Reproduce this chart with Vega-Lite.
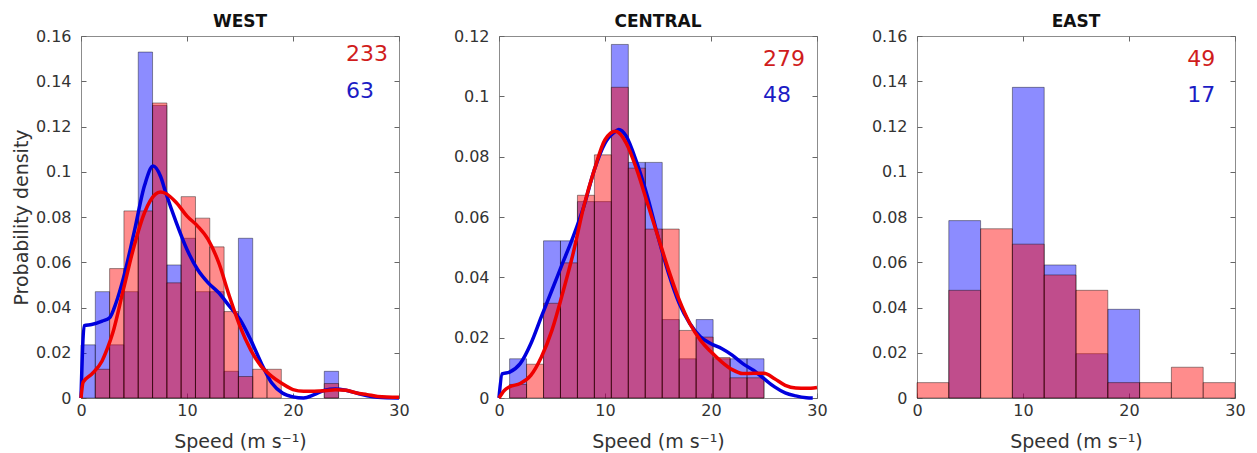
{
  "$schema": "https://vega.github.io/schema/vega-lite/v6.json",
  "padding": {"left": 11, "top": 12, "right": 5, "bottom": 0},
  "bounds": "flush",
  "spacing": 100,
  "config": {
    "font": "DejaVu Sans",
    "view": {"stroke": "#8c8c8c", "strokeWidth": 1},
    "axis": {"domain": false, "grid": false, "ticks": true, "tickSize": -5, "tickColor": "#666666", "tickWidth": 1,
      "labelFont": "DejaVu Sans", "labelFontSize": 16, "labelColor": "#333333", "labelFlush": false,
      "titleFont": "DejaVu Sans", "titleFontSize": 19, "titleFontWeight": "normal", "titleColor": "#333333"},
    "axisX": {"labelPadding": 9, "titlePadding": 14},
    "axisY": {"labelPadding": 15, "titlePadding": 4},
    "title": {"font": "DejaVu Sans", "fontSize": 17, "fontWeight": "bold", "color": "#111111", "offset": -3}
  },
  "datasets": {
    "bars": [
      {"region": "WEST", "series": "blue", "x0": 0, "x1": 1.35, "density": 0.0235},
      {"region": "WEST", "series": "blue", "x0": 1.35, "x1": 2.7, "density": 0.0470},
      {"region": "WEST", "series": "blue", "x0": 2.7, "x1": 4.05, "density": 0.0235},
      {"region": "WEST", "series": "blue", "x0": 4.05, "x1": 5.4, "density": 0.0470},
      {"region": "WEST", "series": "blue", "x0": 5.4, "x1": 6.75, "density": 0.1529},
      {"region": "WEST", "series": "blue", "x0": 6.75, "x1": 8.1, "density": 0.1293},
      {"region": "WEST", "series": "blue", "x0": 8.1, "x1": 9.45, "density": 0.0588},
      {"region": "WEST", "series": "blue", "x0": 9.45, "x1": 10.8, "density": 0.0706},
      {"region": "WEST", "series": "blue", "x0": 10.8, "x1": 12.15, "density": 0.0470},
      {"region": "WEST", "series": "blue", "x0": 12.15, "x1": 13.5, "density": 0.0470},
      {"region": "WEST", "series": "blue", "x0": 13.5, "x1": 14.85, "density": 0.0118},
      {"region": "WEST", "series": "blue", "x0": 14.85, "x1": 16.2, "density": 0.0706},
      {"region": "WEST", "series": "blue", "x0": 22.95, "x1": 24.3, "density": 0.0118},
      {"region": "WEST", "series": "red", "x0": 1.35, "x1": 2.7, "density": 0.0127},
      {"region": "WEST", "series": "red", "x0": 2.7, "x1": 4.05, "density": 0.0572},
      {"region": "WEST", "series": "red", "x0": 4.05, "x1": 5.4, "density": 0.0827},
      {"region": "WEST", "series": "red", "x0": 5.4, "x1": 6.75, "density": 0.0827},
      {"region": "WEST", "series": "red", "x0": 6.75, "x1": 8.1, "density": 0.1304},
      {"region": "WEST", "series": "red", "x0": 8.1, "x1": 9.45, "density": 0.0509},
      {"region": "WEST", "series": "red", "x0": 9.45, "x1": 10.8, "density": 0.0890},
      {"region": "WEST", "series": "red", "x0": 10.8, "x1": 12.15, "density": 0.0795},
      {"region": "WEST", "series": "red", "x0": 12.15, "x1": 13.5, "density": 0.0668},
      {"region": "WEST", "series": "red", "x0": 13.5, "x1": 14.85, "density": 0.0382},
      {"region": "WEST", "series": "red", "x0": 14.85, "x1": 16.2, "density": 0.0095},
      {"region": "WEST", "series": "red", "x0": 16.2, "x1": 17.55, "density": 0.0127},
      {"region": "WEST", "series": "red", "x0": 17.55, "x1": 18.9, "density": 0.0127},
      {"region": "WEST", "series": "red", "x0": 22.95, "x1": 24.3, "density": 0.0064},
      {"region": "CENTRAL", "series": "blue", "x0": 1.0, "x1": 2.6, "density": 0.0130},
      {"region": "CENTRAL", "series": "blue", "x0": 4.2, "x1": 5.8, "density": 0.0521},
      {"region": "CENTRAL", "series": "blue", "x0": 5.8, "x1": 7.4, "density": 0.0521},
      {"region": "CENTRAL", "series": "blue", "x0": 7.4, "x1": 9.0, "density": 0.0651},
      {"region": "CENTRAL", "series": "blue", "x0": 9.0, "x1": 10.6, "density": 0.0651},
      {"region": "CENTRAL", "series": "blue", "x0": 10.6, "x1": 12.2, "density": 0.1172},
      {"region": "CENTRAL", "series": "blue", "x0": 12.2, "x1": 13.8, "density": 0.0781},
      {"region": "CENTRAL", "series": "blue", "x0": 13.8, "x1": 15.4, "density": 0.0781},
      {"region": "CENTRAL", "series": "blue", "x0": 15.4, "x1": 17.0, "density": 0.0260},
      {"region": "CENTRAL", "series": "blue", "x0": 17.0, "x1": 18.6, "density": 0.0130},
      {"region": "CENTRAL", "series": "blue", "x0": 18.6, "x1": 20.2, "density": 0.0260},
      {"region": "CENTRAL", "series": "blue", "x0": 20.2, "x1": 21.8, "density": 0.0130},
      {"region": "CENTRAL", "series": "blue", "x0": 21.8, "x1": 23.4, "density": 0.0130},
      {"region": "CENTRAL", "series": "blue", "x0": 23.4, "x1": 25.0, "density": 0.0130},
      {"region": "CENTRAL", "series": "red", "x0": 1.0, "x1": 2.6, "density": 0.0045},
      {"region": "CENTRAL", "series": "red", "x0": 2.6, "x1": 4.2, "density": 0.0112},
      {"region": "CENTRAL", "series": "red", "x0": 4.2, "x1": 5.8, "density": 0.0314},
      {"region": "CENTRAL", "series": "red", "x0": 5.8, "x1": 7.4, "density": 0.0448},
      {"region": "CENTRAL", "series": "red", "x0": 7.4, "x1": 9.0, "density": 0.0672},
      {"region": "CENTRAL", "series": "red", "x0": 9.0, "x1": 10.6, "density": 0.0806},
      {"region": "CENTRAL", "series": "red", "x0": 10.6, "x1": 12.2, "density": 0.1030},
      {"region": "CENTRAL", "series": "red", "x0": 12.2, "x1": 13.8, "density": 0.0762},
      {"region": "CENTRAL", "series": "red", "x0": 13.8, "x1": 15.4, "density": 0.0560},
      {"region": "CENTRAL", "series": "red", "x0": 15.4, "x1": 17.0, "density": 0.0560},
      {"region": "CENTRAL", "series": "red", "x0": 17.0, "x1": 18.6, "density": 0.0224},
      {"region": "CENTRAL", "series": "red", "x0": 18.6, "x1": 20.2, "density": 0.0202},
      {"region": "CENTRAL", "series": "red", "x0": 20.2, "x1": 21.8, "density": 0.0134},
      {"region": "CENTRAL", "series": "red", "x0": 21.8, "x1": 23.4, "density": 0.0067},
      {"region": "CENTRAL", "series": "red", "x0": 23.4, "x1": 25.0, "density": 0.0067},
      {"region": "EAST", "series": "blue", "x0": 3, "x1": 6, "density": 0.0784},
      {"region": "EAST", "series": "blue", "x0": 9, "x1": 12, "density": 0.1373},
      {"region": "EAST", "series": "blue", "x0": 12, "x1": 15, "density": 0.0588},
      {"region": "EAST", "series": "blue", "x0": 15, "x1": 18, "density": 0.0196},
      {"region": "EAST", "series": "blue", "x0": 18, "x1": 21, "density": 0.0392},
      {"region": "EAST", "series": "red", "x0": 0, "x1": 3, "density": 0.0068},
      {"region": "EAST", "series": "red", "x0": 3, "x1": 6, "density": 0.0476},
      {"region": "EAST", "series": "red", "x0": 6, "x1": 9, "density": 0.0748},
      {"region": "EAST", "series": "red", "x0": 9, "x1": 12, "density": 0.0680},
      {"region": "EAST", "series": "red", "x0": 12, "x1": 15, "density": 0.0544},
      {"region": "EAST", "series": "red", "x0": 15, "x1": 18, "density": 0.0476},
      {"region": "EAST", "series": "red", "x0": 18, "x1": 21, "density": 0.0068},
      {"region": "EAST", "series": "red", "x0": 21, "x1": 24, "density": 0.0068},
      {"region": "EAST", "series": "red", "x0": 24, "x1": 27, "density": 0.0136},
      {"region": "EAST", "series": "red", "x0": 27, "x1": 30, "density": 0.0068}
    ],
    "kde": [
      {"region": "WEST", "series": "blue", "speed": 0, "density": 0},
      {"region": "WEST", "series": "blue", "speed": 0.3, "density": 0.032},
      {"region": "WEST", "series": "blue", "speed": 1, "density": 0.0325},
      {"region": "WEST", "series": "blue", "speed": 2, "density": 0.034},
      {"region": "WEST", "series": "blue", "speed": 2.7, "density": 0.0355},
      {"region": "WEST", "series": "blue", "speed": 3.3, "density": 0.042},
      {"region": "WEST", "series": "blue", "speed": 4, "density": 0.053},
      {"region": "WEST", "series": "blue", "speed": 5, "density": 0.073},
      {"region": "WEST", "series": "blue", "speed": 6, "density": 0.094},
      {"region": "WEST", "series": "blue", "speed": 6.8, "density": 0.1025},
      {"region": "WEST", "series": "blue", "speed": 7.5, "density": 0.098},
      {"region": "WEST", "series": "blue", "speed": 8, "density": 0.0907},
      {"region": "WEST", "series": "blue", "speed": 9, "density": 0.0774},
      {"region": "WEST", "series": "blue", "speed": 10, "density": 0.0656},
      {"region": "WEST", "series": "blue", "speed": 11, "density": 0.0568},
      {"region": "WEST", "series": "blue", "speed": 12, "density": 0.0509},
      {"region": "WEST", "series": "blue", "speed": 13, "density": 0.0465},
      {"region": "WEST", "series": "blue", "speed": 14, "density": 0.0406},
      {"region": "WEST", "series": "blue", "speed": 15, "density": 0.0347},
      {"region": "WEST", "series": "blue", "speed": 16, "density": 0.0258},
      {"region": "WEST", "series": "blue", "speed": 17, "density": 0.0155},
      {"region": "WEST", "series": "blue", "speed": 18, "density": 0.0066},
      {"region": "WEST", "series": "blue", "speed": 19, "density": 0.0022},
      {"region": "WEST", "series": "blue", "speed": 20, "density": 0.0005},
      {"region": "WEST", "series": "blue", "speed": 21, "density": 0.0},
      {"region": "WEST", "series": "blue", "speed": 22, "density": 0.0015},
      {"region": "WEST", "series": "blue", "speed": 23, "density": 0.0034},
      {"region": "WEST", "series": "blue", "speed": 24, "density": 0.004},
      {"region": "WEST", "series": "blue", "speed": 25, "density": 0.0034},
      {"region": "WEST", "series": "blue", "speed": 26, "density": 0.0022},
      {"region": "WEST", "series": "blue", "speed": 27, "density": 0.001},
      {"region": "WEST", "series": "blue", "speed": 28, "density": 0.0003},
      {"region": "WEST", "series": "blue", "speed": 30, "density": 0},
      {"region": "WEST", "series": "red", "speed": 0, "density": 0},
      {"region": "WEST", "series": "red", "speed": 0.2, "density": 0.007},
      {"region": "WEST", "series": "red", "speed": 1, "density": 0.0105},
      {"region": "WEST", "series": "red", "speed": 2, "density": 0.0165},
      {"region": "WEST", "series": "red", "speed": 2.5, "density": 0.022},
      {"region": "WEST", "series": "red", "speed": 3, "density": 0.0288},
      {"region": "WEST", "series": "red", "speed": 4, "density": 0.048},
      {"region": "WEST", "series": "red", "speed": 5, "density": 0.067},
      {"region": "WEST", "series": "red", "speed": 6, "density": 0.082},
      {"region": "WEST", "series": "red", "speed": 7, "density": 0.09},
      {"region": "WEST", "series": "red", "speed": 7.5, "density": 0.091},
      {"region": "WEST", "series": "red", "speed": 8, "density": 0.0904},
      {"region": "WEST", "series": "red", "speed": 9, "density": 0.0863},
      {"region": "WEST", "series": "red", "speed": 10, "density": 0.0804},
      {"region": "WEST", "series": "red", "speed": 11, "density": 0.076},
      {"region": "WEST", "series": "red", "speed": 12, "density": 0.070},
      {"region": "WEST", "series": "red", "speed": 13, "density": 0.0597},
      {"region": "WEST", "series": "red", "speed": 14, "density": 0.045},
      {"region": "WEST", "series": "red", "speed": 15, "density": 0.0317},
      {"region": "WEST", "series": "red", "speed": 16, "density": 0.0214},
      {"region": "WEST", "series": "red", "speed": 17, "density": 0.014},
      {"region": "WEST", "series": "red", "speed": 18, "density": 0.0096},
      {"region": "WEST", "series": "red", "speed": 19, "density": 0.0063},
      {"region": "WEST", "series": "red", "speed": 20, "density": 0.0037},
      {"region": "WEST", "series": "red", "speed": 21, "density": 0.003},
      {"region": "WEST", "series": "red", "speed": 22, "density": 0.003},
      {"region": "WEST", "series": "red", "speed": 23, "density": 0.0032},
      {"region": "WEST", "series": "red", "speed": 24, "density": 0.0037},
      {"region": "WEST", "series": "red", "speed": 25, "density": 0.0034},
      {"region": "WEST", "series": "red", "speed": 26, "density": 0.0022},
      {"region": "WEST", "series": "red", "speed": 27, "density": 0.0015},
      {"region": "WEST", "series": "red", "speed": 28, "density": 0.0007},
      {"region": "WEST", "series": "red", "speed": 30, "density": 0.0003},
      {"region": "CENTRAL", "series": "blue", "speed": 0, "density": 0},
      {"region": "CENTRAL", "series": "blue", "speed": 0.3, "density": 0.008},
      {"region": "CENTRAL", "series": "blue", "speed": 1, "density": 0.0086},
      {"region": "CENTRAL", "series": "blue", "speed": 2, "density": 0.0114},
      {"region": "CENTRAL", "series": "blue", "speed": 3, "density": 0.018},
      {"region": "CENTRAL", "series": "blue", "speed": 4, "density": 0.027},
      {"region": "CENTRAL", "series": "blue", "speed": 5, "density": 0.0358},
      {"region": "CENTRAL", "series": "blue", "speed": 6, "density": 0.0447},
      {"region": "CENTRAL", "series": "blue", "speed": 7, "density": 0.0535},
      {"region": "CENTRAL", "series": "blue", "speed": 8, "density": 0.0635},
      {"region": "CENTRAL", "series": "blue", "speed": 9, "density": 0.0757},
      {"region": "CENTRAL", "series": "blue", "speed": 10, "density": 0.0845},
      {"region": "CENTRAL", "series": "blue", "speed": 11, "density": 0.0884},
      {"region": "CENTRAL", "series": "blue", "speed": 11.3, "density": 0.089},
      {"region": "CENTRAL", "series": "blue", "speed": 12, "density": 0.0868},
      {"region": "CENTRAL", "series": "blue", "speed": 13, "density": 0.078},
      {"region": "CENTRAL", "series": "blue", "speed": 14, "density": 0.0668},
      {"region": "CENTRAL", "series": "blue", "speed": 15, "density": 0.0535},
      {"region": "CENTRAL", "series": "blue", "speed": 16, "density": 0.0413},
      {"region": "CENTRAL", "series": "blue", "speed": 17, "density": 0.0314},
      {"region": "CENTRAL", "series": "blue", "speed": 18, "density": 0.0247},
      {"region": "CENTRAL", "series": "blue", "speed": 19, "density": 0.0203},
      {"region": "CENTRAL", "series": "blue", "speed": 20, "density": 0.018},
      {"region": "CENTRAL", "series": "blue", "speed": 21, "density": 0.0164},
      {"region": "CENTRAL", "series": "blue", "speed": 22, "density": 0.0142},
      {"region": "CENTRAL", "series": "blue", "speed": 23, "density": 0.0114},
      {"region": "CENTRAL", "series": "blue", "speed": 24, "density": 0.0092},
      {"region": "CENTRAL", "series": "blue", "speed": 25, "density": 0.0064},
      {"region": "CENTRAL", "series": "blue", "speed": 26, "density": 0.0037},
      {"region": "CENTRAL", "series": "blue", "speed": 27, "density": 0.0017},
      {"region": "CENTRAL", "series": "blue", "speed": 28, "density": 0.0007},
      {"region": "CENTRAL", "series": "blue", "speed": 29, "density": 0.0001},
      {"region": "CENTRAL", "series": "blue", "speed": 29.6, "density": 0},
      {"region": "CENTRAL", "series": "red", "speed": 0, "density": 0},
      {"region": "CENTRAL", "series": "red", "speed": 0.5, "density": 0.0025},
      {"region": "CENTRAL", "series": "red", "speed": 1, "density": 0.0037},
      {"region": "CENTRAL", "series": "red", "speed": 2, "density": 0.0048},
      {"region": "CENTRAL", "series": "red", "speed": 3, "density": 0.0075},
      {"region": "CENTRAL", "series": "red", "speed": 4, "density": 0.0136},
      {"region": "CENTRAL", "series": "red", "speed": 5, "density": 0.0225},
      {"region": "CENTRAL", "series": "red", "speed": 6, "density": 0.0347},
      {"region": "CENTRAL", "series": "red", "speed": 7, "density": 0.048},
      {"region": "CENTRAL", "series": "red", "speed": 8, "density": 0.0635},
      {"region": "CENTRAL", "series": "red", "speed": 9, "density": 0.0757},
      {"region": "CENTRAL", "series": "red", "speed": 10, "density": 0.0856},
      {"region": "CENTRAL", "series": "red", "speed": 11, "density": 0.0884},
      {"region": "CENTRAL", "series": "red", "speed": 12, "density": 0.0845},
      {"region": "CENTRAL", "series": "red", "speed": 13, "density": 0.0757},
      {"region": "CENTRAL", "series": "red", "speed": 14, "density": 0.0646},
      {"region": "CENTRAL", "series": "red", "speed": 15, "density": 0.0535},
      {"region": "CENTRAL", "series": "red", "speed": 16, "density": 0.0424},
      {"region": "CENTRAL", "series": "red", "speed": 17, "density": 0.0325},
      {"region": "CENTRAL", "series": "red", "speed": 18, "density": 0.0247},
      {"region": "CENTRAL", "series": "red", "speed": 19, "density": 0.0192},
      {"region": "CENTRAL", "series": "red", "speed": 20, "density": 0.0153},
      {"region": "CENTRAL", "series": "red", "speed": 21, "density": 0.012},
      {"region": "CENTRAL", "series": "red", "speed": 22, "density": 0.0094},
      {"region": "CENTRAL", "series": "red", "speed": 23, "density": 0.0081},
      {"region": "CENTRAL", "series": "red", "speed": 24, "density": 0.0082},
      {"region": "CENTRAL", "series": "red", "speed": 25, "density": 0.0082},
      {"region": "CENTRAL", "series": "red", "speed": 26, "density": 0.0064},
      {"region": "CENTRAL", "series": "red", "speed": 27, "density": 0.0042},
      {"region": "CENTRAL", "series": "red", "speed": 28, "density": 0.0033},
      {"region": "CENTRAL", "series": "red", "speed": 29, "density": 0.0032},
      {"region": "CENTRAL", "series": "red", "speed": 30, "density": 0.0035}
    ],
    "counts": [
      {"region": "WEST", "series": "red", "n": 233},
      {"region": "WEST", "series": "blue", "n": 63},
      {"region": "CENTRAL", "series": "red", "n": 279},
      {"region": "CENTRAL", "series": "blue", "n": 48},
      {"region": "EAST", "series": "red", "n": 49},
      {"region": "EAST", "series": "blue", "n": 17}
    ]
  },
  "hconcat": [
    {
      "width": 318, "height": 362,
      "title": "WEST",
      "resolve": {"axis": {"x": "independent", "y": "independent"}},
      "layer": [
        {"data": {"name": "bars"}, "transform": [{"filter": "datum.region === 'WEST' && datum.series === 'blue'"}],
         "mark": {"type": "bar", "fill": "#0000ff", "fillOpacity": 0.45, "stroke": "#000000", "strokeOpacity": 0.45, "strokeWidth": 0.9},
         "encoding": {
           "x": {"field": "x0", "type": "quantitative", "scale": {"domain": [0, 30], "nice": false, "zero": false}, "axis": {"orient": "bottom", "values": [0, 10, 20, 30], "title": "Speed (m s⁻¹)"}},
           "x2": {"field": "x1"},
           "y": {"field": "density", "type": "quantitative", "scale": {"domain": [0, 0.16], "nice": false}, "axis": {"orient": "left", "values": [0, 0.02, 0.04, 0.06, 0.08, 0.1, 0.12, 0.14, 0.16], "format": ".2~f", "title": "Probability density"}},
           "y2": {"datum": 0}
         }},
        {"data": {"name": "bars"}, "transform": [{"filter": "datum.region === 'WEST' && datum.series === 'red'"}],
         "mark": {"type": "bar", "fill": "#ff0000", "fillOpacity": 0.45, "stroke": "#000000", "strokeOpacity": 0.45, "strokeWidth": 0.9},
         "encoding": {"x": {"field": "x0", "type": "quantitative", "axis": null}, "x2": {"field": "x1"}, "y": {"field": "density", "type": "quantitative", "axis": null}, "y2": {"datum": 0}}},
        {"data": {"name": "kde"}, "transform": [{"filter": "datum.region === 'WEST' && datum.series === 'blue'"}],
         "mark": {"type": "line", "color": "#0000dd", "strokeWidth": 3.5, "interpolate": "monotone"},
         "encoding": {"x": {"field": "speed", "type": "quantitative", "axis": null}, "y": {"field": "density", "type": "quantitative", "axis": null}}},
        {"data": {"name": "kde"}, "transform": [{"filter": "datum.region === 'WEST' && datum.series === 'red'"}],
         "mark": {"type": "line", "color": "#ee0000", "strokeWidth": 3.5, "interpolate": "monotone"},
         "encoding": {"x": {"field": "speed", "type": "quantitative", "axis": null}, "y": {"field": "density", "type": "quantitative", "axis": null}}},
        {"data": {"name": "counts"}, "transform": [{"filter": "datum.region === 'WEST' && datum.series === 'red'"}],
         "mark": {"type": "text", "align": "left", "baseline": "alphabetic", "fontSize": 22, "font": "DejaVu Sans", "color": "#d01c1c"},
         "encoding": {"x": {"datum": 25, "type": "quantitative", "axis": null}, "y": {"datum": 0.149, "type": "quantitative", "axis": null}, "text": {"field": "n"}}},
        {"data": {"name": "counts"}, "transform": [{"filter": "datum.region === 'WEST' && datum.series === 'blue'"}],
         "mark": {"type": "text", "align": "left", "baseline": "alphabetic", "fontSize": 22, "font": "DejaVu Sans", "color": "#1c1cc4"},
         "encoding": {"x": {"datum": 25, "type": "quantitative", "axis": {"orient": "top", "values": [0, 10, 20, 30], "labels": false, "title": null}}, "y": {"datum": 0.1326, "type": "quantitative", "axis": {"orient": "right", "values": [0, 0.02, 0.04, 0.06, 0.08, 0.1, 0.12, 0.14, 0.16], "labels": false, "title": null}}, "text": {"field": "n"}}}
      ]
    },
    {
      "width": 318, "height": 362,
      "title": "CENTRAL",
      "resolve": {"axis": {"x": "independent", "y": "independent"}},
      "layer": [
        {"data": {"name": "bars"}, "transform": [{"filter": "datum.region === 'CENTRAL' && datum.series === 'blue'"}],
         "mark": {"type": "bar", "fill": "#0000ff", "fillOpacity": 0.45, "stroke": "#000000", "strokeOpacity": 0.45, "strokeWidth": 0.9},
         "encoding": {
           "x": {"field": "x0", "type": "quantitative", "scale": {"domain": [0, 30], "nice": false, "zero": false}, "axis": {"orient": "bottom", "values": [0, 10, 20, 30], "title": "Speed (m s⁻¹)"}},
           "x2": {"field": "x1"},
           "y": {"field": "density", "type": "quantitative", "scale": {"domain": [0, 0.12], "nice": false}, "axis": {"orient": "left", "values": [0, 0.02, 0.04, 0.06, 0.08, 0.1, 0.12], "format": ".2~f", "title": null}},
           "y2": {"datum": 0}
         }},
        {"data": {"name": "bars"}, "transform": [{"filter": "datum.region === 'CENTRAL' && datum.series === 'red'"}],
         "mark": {"type": "bar", "fill": "#ff0000", "fillOpacity": 0.45, "stroke": "#000000", "strokeOpacity": 0.45, "strokeWidth": 0.9},
         "encoding": {"x": {"field": "x0", "type": "quantitative", "axis": null}, "x2": {"field": "x1"}, "y": {"field": "density", "type": "quantitative", "axis": null}, "y2": {"datum": 0}}},
        {"data": {"name": "kde"}, "transform": [{"filter": "datum.region === 'CENTRAL' && datum.series === 'blue'"}],
         "mark": {"type": "line", "color": "#0000dd", "strokeWidth": 3.5, "interpolate": "monotone"},
         "encoding": {"x": {"field": "speed", "type": "quantitative", "axis": null}, "y": {"field": "density", "type": "quantitative", "axis": null}}},
        {"data": {"name": "kde"}, "transform": [{"filter": "datum.region === 'CENTRAL' && datum.series === 'red'"}],
         "mark": {"type": "line", "color": "#ee0000", "strokeWidth": 3.5, "interpolate": "monotone"},
         "encoding": {"x": {"field": "speed", "type": "quantitative", "axis": null}, "y": {"field": "density", "type": "quantitative", "axis": null}}},
        {"data": {"name": "counts"}, "transform": [{"filter": "datum.region === 'CENTRAL' && datum.series === 'red'"}],
         "mark": {"type": "text", "align": "left", "baseline": "alphabetic", "fontSize": 22, "font": "DejaVu Sans", "color": "#d01c1c"},
         "encoding": {"x": {"datum": 24.9, "type": "quantitative", "axis": null}, "y": {"datum": 0.110, "type": "quantitative", "axis": null}, "text": {"field": "n"}}},
        {"data": {"name": "counts"}, "transform": [{"filter": "datum.region === 'CENTRAL' && datum.series === 'blue'"}],
         "mark": {"type": "text", "align": "left", "baseline": "alphabetic", "fontSize": 22, "font": "DejaVu Sans", "color": "#1c1cc4"},
         "encoding": {"x": {"datum": 24.9, "type": "quantitative", "axis": {"orient": "top", "values": [0, 10, 20, 30], "labels": false, "title": null}}, "y": {"datum": 0.098, "type": "quantitative", "axis": {"orient": "right", "values": [0, 0.02, 0.04, 0.06, 0.08, 0.1, 0.12], "labels": false, "title": null}}, "text": {"field": "n"}}}
      ]
    },
    {
      "width": 318, "height": 362,
      "title": "EAST",
      "resolve": {"axis": {"x": "independent", "y": "independent"}},
      "layer": [
        {"data": {"name": "bars"}, "transform": [{"filter": "datum.region === 'EAST' && datum.series === 'blue'"}],
         "mark": {"type": "bar", "fill": "#0000ff", "fillOpacity": 0.45, "stroke": "#000000", "strokeOpacity": 0.45, "strokeWidth": 0.9},
         "encoding": {
           "x": {"field": "x0", "type": "quantitative", "scale": {"domain": [0, 30], "nice": false, "zero": false}, "axis": {"orient": "bottom", "values": [0, 10, 20, 30], "title": "Speed (m s⁻¹)"}},
           "x2": {"field": "x1"},
           "y": {"field": "density", "type": "quantitative", "scale": {"domain": [0, 0.16], "nice": false}, "axis": {"orient": "left", "values": [0, 0.02, 0.04, 0.06, 0.08, 0.1, 0.12, 0.14, 0.16], "format": ".2~f", "title": null}},
           "y2": {"datum": 0}
         }},
        {"data": {"name": "bars"}, "transform": [{"filter": "datum.region === 'EAST' && datum.series === 'red'"}],
         "mark": {"type": "bar", "fill": "#ff0000", "fillOpacity": 0.45, "stroke": "#000000", "strokeOpacity": 0.45, "strokeWidth": 0.9},
         "encoding": {"x": {"field": "x0", "type": "quantitative", "axis": null}, "x2": {"field": "x1"}, "y": {"field": "density", "type": "quantitative", "axis": null}, "y2": {"datum": 0}}},
        {"data": {"name": "counts"}, "transform": [{"filter": "datum.region === 'EAST' && datum.series === 'red'"}],
         "mark": {"type": "text", "align": "left", "baseline": "alphabetic", "fontSize": 22, "font": "DejaVu Sans", "color": "#d01c1c"},
         "encoding": {"x": {"datum": 25.5, "type": "quantitative", "axis": null}, "y": {"datum": 0.1467, "type": "quantitative", "axis": null}, "text": {"field": "n"}}},
        {"data": {"name": "counts"}, "transform": [{"filter": "datum.region === 'EAST' && datum.series === 'blue'"}],
         "mark": {"type": "text", "align": "left", "baseline": "alphabetic", "fontSize": 22, "font": "DejaVu Sans", "color": "#1c1cc4"},
         "encoding": {"x": {"datum": 25.5, "type": "quantitative", "axis": {"orient": "top", "values": [0, 10, 20, 30], "labels": false, "title": null}}, "y": {"datum": 0.131, "type": "quantitative", "axis": {"orient": "right", "values": [0, 0.02, 0.04, 0.06, 0.08, 0.1, 0.12, 0.14, 0.16], "labels": false, "title": null}}, "text": {"field": "n"}}}
      ]
    }
  ]
}
